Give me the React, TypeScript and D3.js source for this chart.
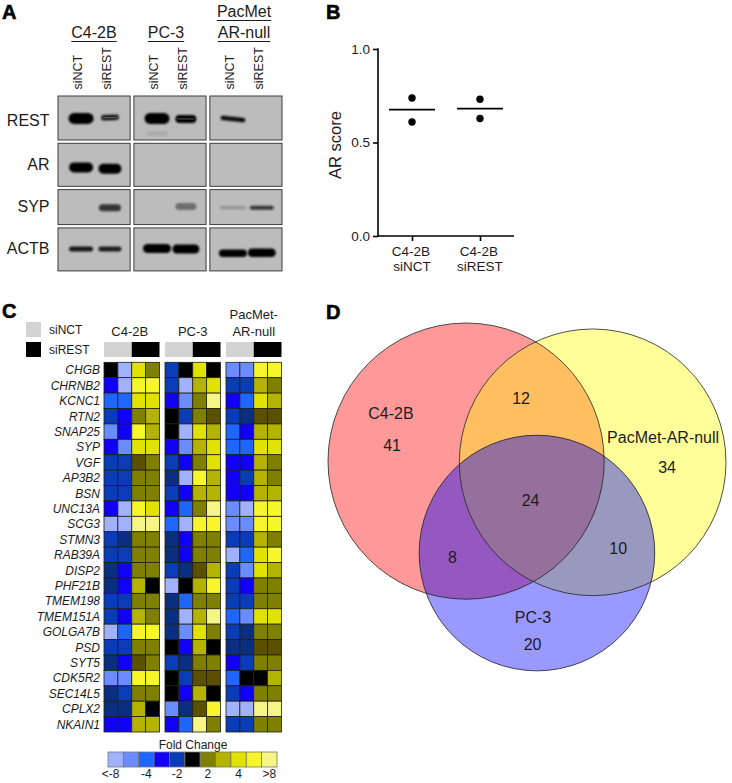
import React, { useEffect, useRef } from 'react';
import * as d3 from 'd3';

const FONT = '"Liberation Sans", Arial, sans-serif';
const INK = '#1c1c1c';

// Panel A: western blots. Six lanes per row: two for each cell line.
const CELL_LINES = ['C4-2B', 'PC-3', 'PacMet AR-null'];
const LANES = ['siNCT', 'siREST'];
const BLOT_ROWS = ['REST', 'AR', 'SYP', 'ACTB'];
const REST_DENSITY = [1, 0.9, 1, 1, 0.95, 0];
const REST_THICK = [11, 5.5, 11, 8, 4.5, 0];
const REST_WIDTH = [25, 18, 25, 21, 25, 0];
const REST_MIGRATION = [0.51, 0.49, 0.51, 0.52, 0.52, 0.5];
const REST_TILT = [0, -2, 0, 0, 6, 0];
// pale centre of the doublet bands, and the faint smear under PC-3 siNCT
const REST_CORE = [0, 0.45, 0, 0.4, 0, 0];
const REST_SMEAR = [0, 0, 0.09, 0, 0, 0];
const AR_DENSITY = [1, 1, 0, 0, 0, 0];
const AR_THICK = [10, 10, 0, 0, 0, 0];
const AR_WIDTH = [24, 23, 0, 0, 0, 0];
const AR_MIGRATION = [0.56, 0.59, 0.5, 0.5, 0.5, 0.5];
const SYP_DENSITY = [0, 0.72, 0, 0.42, 0.2, 0.72];
const SYP_THICK = [0, 7, 0, 7, 3.5, 4];
const SYP_WIDTH = [0, 22, 0, 21, 26, 24];
const SYP_MIGRATION = [0.5, 0.52, 0.5, 0.48, 0.52, 0.52];
const ACTB_DENSITY = [0.88, 0.85, 1, 1, 1, 1];
const ACTB_THICK = [5, 5, 9, 9, 7.5, 8.5];
const ACTB_WIDTH = [24, 23, 28, 27, 28, 28];
const ACTB_MIGRATION = [0.49, 0.49, 0.48, 0.49, 0.59, 0.58];

// Panel B: AR score
const SCORE_GROUPS = ['C4-2B siNCT', 'C4-2B siREST'];
const SCORE_POINTS = [[0.738, 0.61], [0.731, 0.628]];
const SCORE_MEANS = [0.676, 0.681];
const SCORE_TICKS = [0, 0.5, 1];

// Panel C: fold-change heatmap, level -6 (most down) to 6 (most up)
const GENES = ['CHGB', 'CHRNB2', 'KCNC1', 'RTN2', 'SNAP25', 'SYP', 'VGF', 'AP3B2', 'BSN', 'UNC13A', 'SCG3', 'STMN3',
  'RAB39A', 'DISP2', 'PHF21B', 'TMEM198', 'TMEM151A', 'GOLGA7B', 'PSD', 'SYT5', 'CDK5R2', 'SEC14L5', 'CPLX2', 'NKAIN1'];
const C42B_LEVELS = [
  [0, -6, 4, 2], [-3, -6, 5, 5], [-4, -4, 4, 4], [-2, -3, 2, 3], [-5, -3, 5, 3], [-3, -5, 4, 4],
  [-2, -2, 1, 2], [-2, -2, 2, 2], [-2, -2, 2, 2], [-3, -6, 5, 4], [-6, -6, 6, 6], [-2, -1, 2, 2],
  [-2, -2, 2, 2], [-1, -3, 2, 2], [-1, -3, 3, 0], [-2, -2, 2, 2], [-2, -3, 3, 2], [-6, -4, 5, 5],
  [-2, -2, 2, 2], [-1, -3, 1, 2], [-5, -5, 5, 5], [-1, -2, 2, 2], [-1, -1, 3, 0], [-3, -3, 3, 3],
];
const PC3_LEVELS = [
  [-2, 0, 4, 0], [-2, -6, 3, 4], [-3, -5, 2, 6], [0, -2, 2, 1], [0, -6, 4, 3], [-3, -5, 3, 4],
  [-2, -3, 2, 4], [-1, -6, 5, 3], [-2, -3, 3, 3], [-3, -4, 2, 6], [-4, -6, 5, 5], [-1, -3, 2, 2],
  [-1, -3, 2, 2], [-2, -1, 1, 3], [-6, 0, 3, 5], [-1, -4, 2, 2], [-1, -6, 3, 6], [-1, -5, 4, 2],
  [0, -3, 3, 0], [-2, -1, 2, 2], [0, -2, 1, 1], [0, -3, 3, 0], [-5, -1, 1, 5], [-3, -4, 6, 2],
];
const PACMET_LEVELS = [
  [-5, -5, 5, 5], [-2, -2, 3, 2], [-3, -4, 4, 3], [-2, -1, 1, 1], [-4, -3, 3, 3], [-4, -4, 4, 4],
  [-3, -3, 3, 2], [-3, -2, 3, 2], [-3, -3, 3, 3], [-5, -6, 5, 5], [-5, -5, 5, 5], [-2, -2, 3, 2],
  [-6, -4, 4, 5], [-2, -5, 4, 3], [-2, -3, 2, 2], [-2, -2, 2, 2], [-4, -5, 4, 4], [-2, -1, 2, 2],
  [-1, -1, 1, 1], [-3, -2, 2, 2], [-4, 0, 0, 3], [-2, -3, 2, 2], [-6, -6, 6, 6], [-2, -2, 2, 2],
];
const HEAT_LEVELS = [-6, -5, -4, -3, -2, -1, 0, 1, 2, 3, 4, 5, 6];
const HEAT_COLORS = ['#a0b2ff', '#6a8cff', '#1f66ff', '#1000f5', '#0a3cb8', '#0a2f80', '#000000',
  '#5a5000', '#808000', '#b3b300', '#e2e200', '#f6f62a', '#f6f686'];
const KEY_LEVELS = [-6, -5, -4, -3, -2, 0, 2, 3, 4, 5, 6];
const KEY_LABELS = ['<-8', '', '-4', '', '-2', '', '2', '', '4', '', '>8'];
const HEAT_HEADINGS = [['C4-2B'], ['PC-3'], ['PacMet-', 'AR-null']];

// Panel D: Venn. Circles and label anchors are in a 0-100 unit square.
const VENN_SETS = ['C4-2B', 'PacMet-AR-null', 'PC-3'];
const VENN_CX = [34.7, 66.5, 52.5];
const VENN_CY = [34.7, 35, 57.8];
const VENN_R = [34.7, 33.5, 29.6];
const VENN_FILLS = ['#ff9999', '#ffff99', '#9999ff'];
const VENN_LABELS = ['C4-2B', '41', '12', 'PacMet-AR-null', '34', '24', '8', '10', 'PC-3', '20'];
const VENN_LABEL_X = [15.8, 16.1, 48.5, 84.2, 85.2, 50.9, 31.3, 72.9, 51.5, 51.4];
const VENN_LABEL_Y = [24.1, 32.1, 20.4, 30.2, 37.7, 46, 60.3, 58, 75.3, 82.1];

export default function App() {
  const svgRef = useRef<SVGSVGElement>(null);

  useEffect(() => {
    const svg = d3.select(svgRef.current);
    svg.selectAll('*').remove();
    svg.style('font-family', FONT);

    const label = (x: number, y: number, text: string, size: number, anchor = 'middle') =>
      svg.append('text').attr('x', x).attr('y', y).attr('text-anchor', anchor)
        .style('font-size', `${size}px`).style('fill', INK).text(text);

    const letter = (x: number, y: number, text: string) =>
      svg.append('text').attr('x', x).attr('y', y).style('font-size', '20px').style('font-weight', 'bold')
        .style('fill', '#000').style('stroke', '#000').style('stroke-width', 0.6).text(text);

    letter(2, 19, 'A');
    letter(326, 19, 'B');
    letter(2, 318, 'C');
    letter(326, 319, 'D');

    const defs = svg.append('defs');
    defs.append('filter').attr('id', 'band-blur').attr('x', '-20%').attr('y', '-80%')
      .attr('width', '140%').attr('height', '260%')
      .append('feGaussianBlur').attr('stdDeviation', 1);
    defs.append('filter').attr('id', 'core-blur').attr('x', '-20%').attr('y', '-200%')
      .attr('width', '140%').attr('height', '500%')
      .append('feGaussianBlur').attr('stdDeviation', 0.5);

    // ---- Panel A
    const blotX = d3.scaleBand<string>().domain(CELL_LINES).range([58, 282]).paddingInner(0.05);
    const laneX = d3.scalePoint<string>().domain(LANES).range([blotX.bandwidth() * 0.02, blotX.bandwidth() * 1.02]).padding(0.75);
    const rowHeights = [44, 43, 35, 43];
    const rowTop = (i: number) => 96 + d3.sum(rowHeights.slice(0, i)) + i * 3.3;
    const blotTable = [
      [REST_DENSITY, REST_THICK, REST_WIDTH, REST_MIGRATION, REST_TILT],
      [AR_DENSITY, AR_THICK, AR_WIDTH, AR_MIGRATION],
      [SYP_DENSITY, SYP_THICK, SYP_WIDTH, SYP_MIGRATION],
      [ACTB_DENSITY, ACTB_THICK, ACTB_WIDTH, ACTB_MIGRATION],
    ];

    BLOT_ROWS.forEach((row, r) => {
      const [density, thick, bandW, migration, tilt] = blotTable[r];
      CELL_LINES.forEach((line, c) => {
        const px = blotX(line)!;
        svg.append('rect').attr('x', px).attr('y', rowTop(r))
          .attr('width', blotX.bandwidth()).attr('height', rowHeights[r])
          .attr('fill', '#bcbcbc').attr('stroke', '#3c3c3c').attr('stroke-width', 1);
        LANES.forEach((lane, l) => {
          const k = c * 2 + l;
          if (!density[k]) return;
          const cx = px + laneX(lane)!;
          const cy = rowTop(r) + migration[k] * rowHeights[r];
          svg.append('rect').attr('x', cx - bandW[k] / 2).attr('y', cy - thick[k] / 2)
            .attr('width', bandW[k]).attr('height', thick[k]).attr('rx', thick[k] / 2)
            .attr('fill', '#000').attr('fill-opacity', density[k])
            .attr('filter', 'url(#band-blur)')
            .attr('transform', tilt ? `rotate(${tilt[k]} ${cx} ${cy})` : null);
          if (r === 0 && REST_CORE[k]) {
            svg.append('rect').attr('x', cx - bandW[k] * 0.4).attr('y', cy - 0.6)
              .attr('width', bandW[k] * 0.8).attr('height', 1.2)
              .attr('fill', '#bcbcbc').attr('fill-opacity', REST_CORE[k])
              .attr('filter', 'url(#core-blur)')
              .attr('transform', `rotate(${REST_TILT[k]} ${cx} ${cy})`);
          }
          if (r === 0 && REST_SMEAR[k]) {
            svg.append('rect').attr('x', cx - bandW[k] * 0.4).attr('y', rowTop(r) + rowHeights[r] * 0.8)
              .attr('width', bandW[k] * 0.8).attr('height', 5)
              .attr('fill', '#000').attr('fill-opacity', REST_SMEAR[k])
              .attr('filter', 'url(#band-blur)');
          }
        });
      });
      label(49.5, [125.5, 170, 212, 254][r], row, 16, 'end');
    });

    // Cell line headings with their underlines
    const headingX = [94, 166, 244];
    CELL_LINES.forEach((line, c) => {
      const rows = line === 'PacMet AR-null' ? ['PacMet', 'AR-null'] : [line];
      rows.forEach((txt, i) => {
        const y = 38 - (rows.length - 1 - i) * 21;
        const t = label(headingX[c], y, txt, 16);
        const w = (t.node() as SVGTextElement).getComputedTextLength();
        svg.append('line').attr('x1', headingX[c] - w / 2).attr('x2', headingX[c] + w / 2)
          .attr('y1', y + 3.5).attr('y2', y + 3.5).attr('stroke', INK).attr('stroke-width', 1);
      });
      LANES.forEach(lane => {
        const x = blotX(line)! + laneX(lane)! + 1;
        svg.append('text').attr('transform', `translate(${x},89.5) rotate(-90)`)
          .style('font-size', '12.5px').style('fill', INK).text(lane);
      });
    });

    // ---- Panel B
    const scoreY = d3.scaleLinear().domain([0, 1]).range([236, 49]);
    const scoreX = d3.scalePoint<string>().domain(SCORE_GROUPS).range([378, 514]).padding(0.5);

    const yAxis = svg.append('g').attr('transform', 'translate(378,0)')
      .call(d3.axisLeft(scoreY).tickValues(SCORE_TICKS).tickFormat(d3.format('.1f')).tickSize(5).tickPadding(3));
    const xAxis = svg.append('g').attr('transform', 'translate(0,236)')
      .call(d3.axisBottom(scoreX).tickSize(5).tickFormat(() => ''));
    [yAxis, xAxis].forEach(axis => {
      axis.selectAll('path').attr('d', null);
      axis.selectAll('line').attr('stroke', '#000').attr('stroke-width', 1.6);
      axis.selectAll('text').style('font-size', '13.5px').style('font-family', FONT).style('fill', INK);
    });
    yAxis.append('line').attr('y1', scoreY(1) - 0.8).attr('y2', scoreY(0) + 0.8).attr('stroke', '#000').attr('stroke-width', 1.6);
    xAxis.append('line').attr('x1', 378).attr('x2', 514).attr('stroke', '#000').attr('stroke-width', 1.6);

    SCORE_GROUPS.forEach((group, i) => {
      const x = scoreX(group)!;
      SCORE_POINTS[i].forEach(v => {
        svg.append('circle').attr('cx', x).attr('cy', scoreY(v)).attr('r', 3.7).attr('fill', '#000');
      });
      svg.append('line').attr('x1', x - 23).attr('x2', x + 23)
        .attr('y1', scoreY(SCORE_MEANS[i])).attr('y2', scoreY(SCORE_MEANS[i]))
        .attr('stroke', '#000').attr('stroke-width', 1.6);
      const [a, b] = group.split(' ');
      label(x - 1, 256, a, 13.5);
      label(x, 271, b, 13.5);
    });
    svg.append('text').attr('transform', 'translate(341,145) rotate(-90)').attr('text-anchor', 'middle')
      .style('font-size', '16.5px').style('fill', INK).text('AR score');

    // ---- Panel C
    const blocks = [C42B_LEVELS, PC3_LEVELS, PACMET_LEVELS];
    const heatColor = d3.scaleOrdinal<number, string>().domain(HEAT_LEVELS).range(HEAT_COLORS);
    const blockX = d3.scaleBand<number>().domain([0, 1, 2]).range([104, 281.5]).paddingInner(0.09);
    const heatY = d3.scaleBand<string>().domain(GENES).range([362.3, 732]);
    const cellX = d3.scaleBand<number>().domain([0, 1, 2, 3]).range([0, blockX.bandwidth()]);

    blocks.forEach((levels, b) => {
      const x0 = blockX(b)!;
      GENES.forEach((gene, g) => {
        levels[g].forEach((v, c) => {
          svg.append('rect').attr('x', x0 + cellX(c)!).attr('y', heatY(gene)!)
            .attr('width', cellX.bandwidth()).attr('height', heatY.bandwidth())
            .attr('fill', heatColor(v)).attr('stroke', '#1f1f10').attr('stroke-width', 0.8);
        });
      });
      // treatment bar
      svg.append('rect').attr('x', x0).attr('y', 342).attr('width', cellX.bandwidth() * 2).attr('height', 15).attr('fill', '#d3d3d3');
      svg.append('rect').attr('x', x0 + cellX(2)!).attr('y', 342).attr('width', cellX.bandwidth() * 2).attr('height', 15).attr('fill', '#000');
      const head = HEAT_HEADINGS[b];
      head.forEach((txt, i) => {
        label(x0 + blockX.bandwidth() / 2 - (b === 0 ? 2 : 0), 335.7 - (head.length - 1 - i) * 16.7, txt, 13);
      });
    });

    GENES.forEach(gene => {
      label(100, heatY(gene)! + heatY.bandwidth() / 2 + 4.3, gene, 12, 'end').style('font-style', 'italic');
    });

    svg.append('rect').attr('x', 26).attr('y', 322).attr('width', 15).attr('height', 15).attr('fill', '#d3d3d3');
    svg.append('rect').attr('x', 26).attr('y', 342).attr('width', 15).attr('height', 15).attr('fill', '#000');
    label(49, 334, 'siNCT', 12, 'start');
    label(49, 354, 'siREST', 12, 'start');

    const keyX = d3.scaleBand<number>().domain(KEY_LEVELS).range([108, 277]);
    KEY_LEVELS.forEach((v, i) => {
      svg.append('rect').attr('x', keyX(v)!).attr('y', 752).attr('width', keyX.bandwidth()).attr('height', 15)
        .attr('fill', heatColor(v)).attr('stroke', '#777').attr('stroke-width', 0.8);
      if (KEY_LABELS[i]) label(keyX(v)! + keyX.bandwidth() / 2 - (i === 0 ? 5 : 0), 778, KEY_LABELS[i], 12);
    });
    label(193, 749, 'Fold Change', 12);

    // ---- Panel D
    const vennX = d3.scaleLinear().domain([0, 100]).range([328, 726]);
    const vennY = d3.scaleLinear().domain([0, 100]).range([323, 721]);
    const vennR = d3.scaleLinear().domain([0, 100]).range([0, 398]);
    const vennCircle = (parent: any, i: number) => parent.append('circle')
      .attr('cx', vennX(VENN_CX[i])).attr('cy', vennY(VENN_CY[i])).attr('r', vennR(VENN_R[i]));

    VENN_SETS.forEach((_, i) => {
      vennCircle(defs.append('clipPath').attr('id', `venn-clip-${i}`), i);
    });
    VENN_SETS.forEach((_, i) => vennCircle(svg, i).attr('fill', VENN_FILLS[i]));
    // Overlap regions keep their own flat colours, as in the original
    vennCircle(svg.append('g').attr('clip-path', 'url(#venn-clip-0)'), 1).attr('fill', '#ffbf60');
    vennCircle(svg.append('g').attr('clip-path', 'url(#venn-clip-0)'), 2).attr('fill', '#9558c0');
    vennCircle(svg.append('g').attr('clip-path', 'url(#venn-clip-1)'), 2).attr('fill', '#9999c0');
    vennCircle(svg.append('g').attr('clip-path', 'url(#venn-clip-0)').append('g').attr('clip-path', 'url(#venn-clip-1)'), 2)
      .attr('fill', '#96709c');
    VENN_SETS.forEach((_, i) => vennCircle(svg, i).attr('fill', 'none').attr('stroke', '#222').attr('stroke-width', 0.8));

    VENN_LABELS.forEach((txt, i) => {
      label(vennX(VENN_LABEL_X[i]), vennY(VENN_LABEL_Y[i]), txt, 16);
    });
  }, []);

  return (
    <svg ref={svgRef} width={732} height={783}
      style={{ position: 'absolute', left: 0, top: 0, display: 'block', background: 'white' }} />
  );
}
